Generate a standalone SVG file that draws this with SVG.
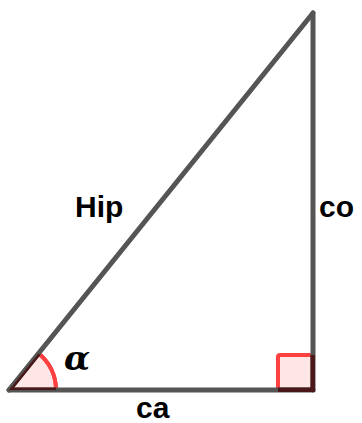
<svg xmlns="http://www.w3.org/2000/svg" width="362" height="423" viewBox="0 0 362 423">
<style>
.side{stroke:#555;stroke-width:5;stroke-linecap:round;fill:none}
.inner{stroke:#4a1818;stroke-width:5;stroke-linecap:round;fill:none}
.mark{fill:#ffe6e6;stroke:#ff4040;stroke-width:4;stroke-linejoin:round}
.lbl{font-family:"Liberation Sans",Arial,sans-serif;font-weight:bold;font-size:30px;fill:#000}
.greek{font-family:"DejaVu Serif",serif;font-style:italic;font-weight:bold;font-size:34px;fill:#000}
</style>
<defs>
<clipPath id="secClip"><path d="M9,390 L56,390 A47,47 0 0 0 38.5,353.4 Z"/></clipPath>
<clipPath id="sqClip"><rect x="278" y="355" width="37" height="37"/></clipPath>
</defs>
<g id="angle-alpha">
<path class="mark" d="M9,390 L56,390 A47,47 0 0 0 38.5,353.4 Z" stroke="none"/>
<path d="M56,390 A47,47 0 0 0 38.5,353.4" fill="none" stroke="#ff4040" stroke-width="4"/>
</g>
<g id="right-angle">
<rect class="mark" x="278" y="355" width="35" height="35" rx="2"/>
</g>
<g id="connectors">
<line class="side" x1="9" y1="390" x2="313" y2="13"/>
<line class="side" x1="9" y1="390" x2="313" y2="390"/>
<line class="side" x1="313" y1="390" x2="313" y2="13"/>
<g clip-path="url(#secClip)">
<line class="inner" x1="9" y1="390" x2="313" y2="13"/>
<line class="inner" x1="9" y1="390" x2="313" y2="390"/>
</g>
<g clip-path="url(#sqClip)">
<line class="inner" x1="9" y1="390" x2="313" y2="390"/>
<line class="inner" x1="313" y1="390" x2="313" y2="13"/>
</g>
</g>
<g id="labels">
<text class="lbl" x="75" y="217">Hip</text>
<text class="lbl" x="319" y="217">co</text>
<text class="lbl" x="136" y="418">ca</text>
<text class="greek" x="64" y="370">α</text>
</g>
</svg>
